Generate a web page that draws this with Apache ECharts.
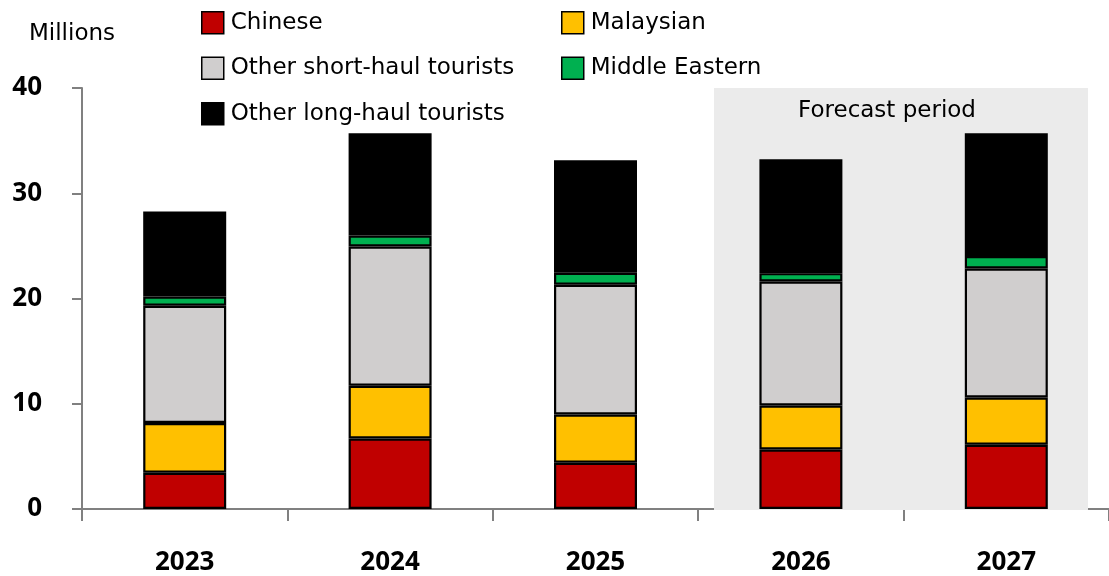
<!DOCTYPE html>
<html>
<head>
<meta charset="utf-8">
<script src="https://cdn.jsdelivr.net/npm/echarts@6/dist/echarts.min.js"></script>
<style>
  html, body { margin: 0; padding: 0; background: #fff; }
  #chart { width: 1109px; height: 576px; }
</style>
</head>
<body>
<div id="chart"></div>
<script>
// values in millions
const years = ['2023', '2024', '2025', '2026', '2027']
const chinese = [3.45, 6.7, 4.4, 5.66, 6.11]
const malaysian = [4.72, 5.01, 4.58, 4.18, 4.49]
const shortHaul = [11.14, 13.23, 12.32, 11.77, 12.25]
const middleEast = [0.88, 1.04, 1.14, 0.8, 1.18]
const longHaul = [8.07, 9.73, 10.7, 10.83, 11.68]
const yTicks = [0, 10, 20, 30, 40]

const font = '"Noto Sans", sans-serif'
const textFont = '"DejaVu Sans", sans-serif'
const chart = echarts.init(document.getElementById('chart'))

const barSeries = (name, data, color) => ({
  name,
  type: 'bar',
  stack: 'total',
  barWidth: 83,
  data,
  z: 3,
  itemStyle: { color, borderColor: '#000', borderWidth: 2.2 }
})

const legendBase = {
  orient: 'vertical',
  top: 6,
  itemWidth: 22,
  itemHeight: 22,
  itemGap: 22,
  icon: 'rect',
  textStyle: { fontFamily: textFont, fontSize: 23, color: '#000', padding: [0, 0, 0, 2] },
  itemStyle: { borderColor: '#000', borderWidth: 1.5 }
}

const option = {
  animation: false,
  textStyle: { fontFamily: font },
  title: {
    text: 'Millions',
    left: 24,
    top: 18,
    textStyle: { fontFamily: textFont, fontSize: 23, fontWeight: 'normal', color: '#000' }
  },
  legend: [
    Object.assign({}, legendBase, {
      data: ['Chinese', 'Other short-haul tourists', 'Other long-haul tourists'],
      left: 196
    }),
    Object.assign({}, legendBase, {
      data: ['Malaysian', 'Middle Eastern'],
      left: 556
    })
  ],
  grid: { left: 82, top: 88, width: 1030, height: 422 },
  xAxis: {
    type: 'category',
    data: years,
    axisLine: { lineStyle: { color: '#808080', width: 2 } },
    axisTick: { show: true, alignWithLabel: false, length: 12, lineStyle: { color: '#808080', width: 2 } },
    axisLabel: { margin: 41, fontFamily: font, fontSize: 26, fontWeight: 'bold', color: '#000' }
  },
  yAxis: {
    type: 'value',
    min: yTicks[0],
    max: yTicks[yTicks.length - 1],
    interval: 10,
    splitLine: { show: false },
    axisLine: { show: true, lineStyle: { color: '#808080', width: 2 } },
    axisTick: { show: true, length: 10, lineStyle: { color: '#808080', width: 2 } },
    axisLabel: { margin: 40, fontFamily: font, fontSize: 26, fontWeight: 'bold', color: '#000' }
  },
  series: [
    {
      // holds the forecast shading behind the bars
      type: 'line',
      data: [],
      z: 1,
      silent: true,
      markArea: {
        silent: true,
        itemStyle: { color: '#EBEBEB' },
        label: {
          show: true,
          position: 'insideTop',
          distance: 12,
          offset: [-14, 0],
          fontFamily: textFont,
          fontSize: 23,
          color: '#000'
        },
        data: [[{ name: 'Forecast period', x: 714, y: 88 }, { x: 1088, y: 510 }]]
      }
    },
    barSeries('Chinese', chinese, '#C00000'),
    barSeries('Malaysian', malaysian, '#FFC000'),
    barSeries('Other short-haul tourists', shortHaul, '#D0CECE'),
    barSeries('Middle Eastern', middleEast, '#00B050'),
    barSeries('Other long-haul tourists', longHaul, '#000000')
  ]
}

chart.setOption(option)
</script>
</body>
</html>
